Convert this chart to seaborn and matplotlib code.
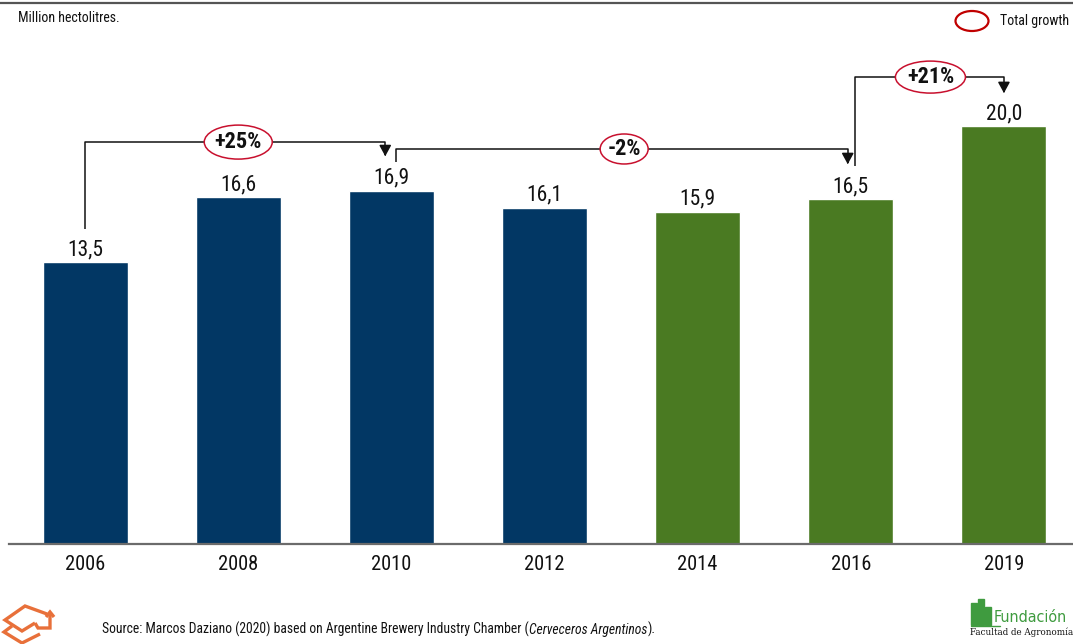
import matplotlib
matplotlib.use("Agg")
import matplotlib.pyplot as plt
from matplotlib.patches import Ellipse
from matplotlib.lines import Line2D
from matplotlib.transforms import Affine2D, ScaledTranslation
from matplotlib import font_manager
import seaborn as sns
import pandas as pd

# Beer production, million hectolitres
years = ["2006", "2008", "2010", "2012", "2014", "2016", "2019"]
values = [13.5, 16.6, 16.9, 16.1, 15.9, 16.5, 20.0]
period = ["early", "early", "early", "early", "late", "late", "late"]
value_labels = ["13,5", "16,6", "16,9", "16,1", "15,9", "16,5", "20,0"]

# Growth brackets
growth_labels = ["+25%", "-2%", "+21%"]

BLUE = "#023764"
GREEN = "#4a7a22"
RED = "#c8102e"

sns.set_theme(style="white")

# prefer a narrow sans if one is available
names = {f.name for f in font_manager.fontManager.ttflist}
narrow = [n for n in ["Liberation Sans Narrow", "Roboto Condensed", "Open Sans Condensed",
                      "DejaVu Sans Condensed", "Arial Narrow"] if n in names]
plt.rcParams["font.family"] = narrow + ["Liberation Sans", "DejaVu Sans"]
plt.rcParams["font.stretch"] = "condensed"

df = pd.DataFrame({"year": years, "value": values, "period": period})

fig = plt.figure(figsize=(10.73, 6.44), dpi=100)
W, H = 1073, 644
# axes: x from 9 px to 1073 px, y from 40 px (top) to 544 px (baseline)
ax = fig.add_axes([9 / W, 1 - 544 / H, (1073 - 9) / W, (544 - 40) / H])

sns.barplot(data=df, x="year", y="value", hue="period",
            palette={"early": BLUE, "late": GREEN}, width=0.555,
            dodge=False, legend=False, ax=ax, saturation=1)

ax.set_xlim(-0.497, 6.451)
ax.set_ylim(0, (544 - 40) / 20.9)
ax.set_xlabel("")
ax.set_ylabel("")
ax.set_yticks([])
for s in ["top", "right", "left"]:
    ax.spines[s].set_visible(False)
ax.spines["bottom"].set_color("#6b6b6b")
ax.spines["bottom"].set_linewidth(1.6)
ax.tick_params(axis="x", length=0, pad=8, labelsize=14.8, colors="#111111")

# value labels
for i, (v, lab) in enumerate(zip(values, value_labels)):
    ax.text(i, v + 0.33, lab, ha="center", va="baseline", fontsize=15.5, color="#111111")


def bracket(x0, x1, y_start, y_line, y_end, label, lx, ew, eh):
    ax.plot([x0, x0, x1, x1], [y_start, y_line, y_line, y_end + 0.35],
            color="#111111", lw=1.1, solid_capstyle="butt", zorder=3)
    ax.annotate("", xy=(x1, y_end), xytext=(x1, y_end + 0.4),
                arrowprops=dict(arrowstyle="-|>,head_length=0.55,head_width=0.3",
                                color="#111111", lw=1.1), zorder=3)
    # ellipse sized in pixels, centred on the bracket line
    e = Ellipse((0, 0), ew, eh, facecolor="white", edgecolor=RED, lw=1.1, zorder=4)
    e.set_transform(Affine2D() + ScaledTranslation(lx, y_line, ax.transData))
    ax.add_patch(e)
    ax.text(lx, y_line, label, ha="center", va="center", fontsize=16,
            fontweight="bold", color="#111111", zorder=5)


bracket(0.0, 1.96, 15.07, 19.23, 18.42, growth_labels[0], 1.0, 68, 34)
bracket(2.03, 4.98, 18.3, 18.9, 18.04, growth_labels[1], 3.52, 48, 30)
bracket(5.03, 6.0, 18.1, 22.34, 21.44, growth_labels[2], 5.52, 70, 32)

# top rule
fig.add_artist(Line2D([0, 1], [1 - 2.5 / H, 1 - 2.5 / H], color="#555555", lw=1.6))

# unit label
fig.text(18 / W, 1 - 18 / H, "Million hectolitres.", fontsize=10,
         va="center", ha="left", color="#111111")

# legend
leg = Ellipse((972 / W, 1 - 21 / H), 33 / W, 20 / H, transform=fig.transFigure,
              facecolor="white", edgecolor="#c00000", lw=1.6)
fig.add_artist(leg)
fig.text(1069 / W, 1 - 21 / H, "Total growth", fontsize=10, va="center",
         ha="right", color="#111111")

# source line
t1 = fig.text(102 / W, 1 - 634 / H,
              "Source: Marcos Daziano (2020) based on Argentine Brewery Industry Chamber (",
              fontsize=9.85, va="baseline", ha="left", color="#111111")
t2 = fig.text(0, 0, "Cerveceros Argentinos", fontsize=9.85, style="italic",
              color="#111111", va="baseline", ha="left")
t3 = fig.text(0, 0, ").", fontsize=9.85, color="#111111", va="baseline", ha="left")
fig.canvas.draw()
r = fig.canvas.get_renderer()
bb = t1.get_window_extent(r)
t2.set_position((bb.x1 / W, 1 - 634 / H))
bb2 = t2.get_window_extent(r)
t3.set_position((bb2.x1 / W + 1 / W, 1 - 634 / H))

# orange mark, bottom left
orange = "#e8703a"


def fig_line(xs, ys, lw=2.4):
    fig.add_artist(Line2D([x / W for x in xs], [1 - y / H for y in ys],
                          color=orange, lw=lw, solid_joinstyle="miter",
                          solid_capstyle="butt"))


fig_line([35, 22, 5, 25, 47], [623, 631, 620, 606, 614])
fig_line([35, 38, 50, 50], [623, 628, 628, 613])
fig_line([46, 50, 54], [617, 612, 617])
fig_line([12, 4, 22, 40], [626, 632, 643, 634])

# foundation logo, bottom right
fig.text(994 / W, 1 - 617 / H, "Fundación", fontsize=11.5, color="#3f9b3f",
         va="center", ha="left", family="DejaVu Sans")
fig.text(970 / W, 1 - 632 / H, "Facultad de Agronomía", fontsize=7,
         color="#111111", va="center", ha="left", family="DejaVu Serif")
for x0, h in [(971, 22), (978, 26), (985, 18)]:
    fig.add_artist(plt.Rectangle((x0 / W, 1 - 625 / H), 6 / W, h / H,
                                 transform=fig.transFigure, color="#3f9b3f"))
fig.add_artist(Line2D([971 / W, 1000 / W], [1 - 625.5 / H, 1 - 625.5 / H],
                      color="#3f9b3f", lw=1))

fig.savefig("out.png", dpi=100)
